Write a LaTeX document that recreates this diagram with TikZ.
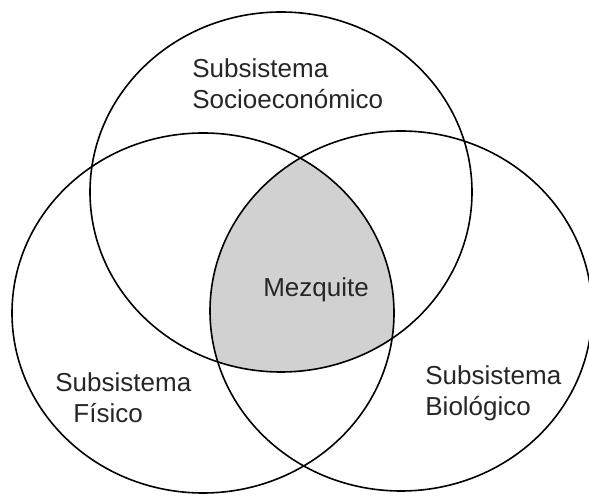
\documentclass[tikz,border=0pt]{standalone}
\usepackage{fontspec}
\setmainfont{Liberation Sans}
\usetikzlibrary{positioning}

\begin{document}
\begin{tikzpicture}[x=0.5pt, y=-0.5pt,
	ring/.style={draw=black, line width=0.8pt},
	lbl/.style={font=\fontsize{13}{15.5}\selectfont, align=left, inner sep=0pt, text=black!85}]
	\useasboundingbox (0,0) rectangle (589,496);
	\coordinate (cs) at (281,192);
	\coordinate (cf) at (203,313);
	\coordinate (cb) at (401,311);

	\begin{scope}
		\clip (cs) ellipse [x radius=95.5pt, y radius=90pt];
		\clip (cf) ellipse [x radius=95.5pt, y radius=90pt];
		\fill[black!18] (cb) ellipse [x radius=95.5pt, y radius=90pt];
	\end{scope}

	\draw[ring] (cs) ellipse [x radius=95.5pt, y radius=90pt];
	\draw[ring] (cf) ellipse [x radius=95.5pt, y radius=90pt];
	\draw[ring] (cb) ellipse [x radius=95.5pt, y radius=90pt];

	\node[lbl, anchor=north west] (soc) at (192,58) {Subsistema\\Socioeconómico};
	\node[lbl, anchor=base] (mez) at (316,297) {Mezquite};
	\node[lbl, anchor=north west] (fis) at (55,372) {Subsistema\\\hspace*{9pt}Físico};
	\node[lbl, anchor=north west] (bio) at (425,365) {Subsistema\\Biológico};
\end{tikzpicture}
\end{document}
